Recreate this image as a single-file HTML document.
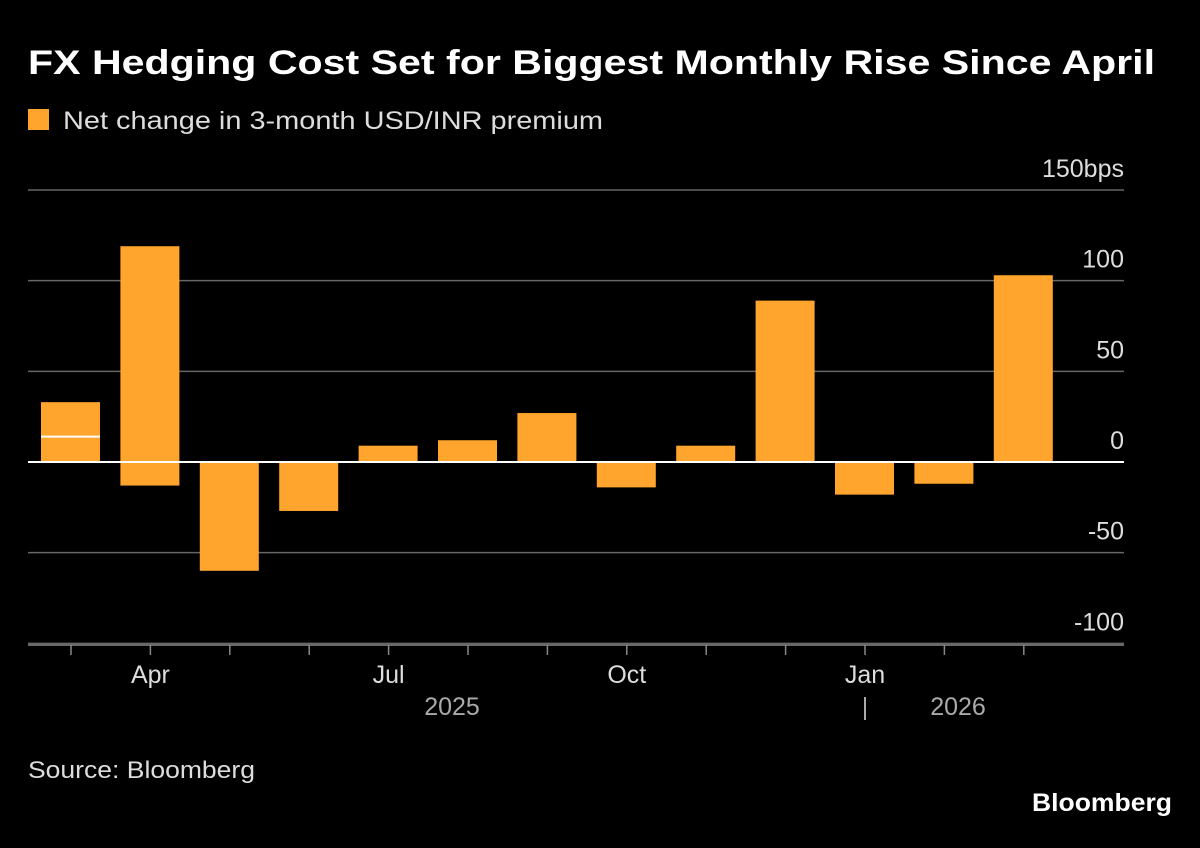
<!DOCTYPE html>
<html><head><meta charset="utf-8">
<style>
body{margin:0;background:#000;width:1200px;height:843px;overflow:hidden;font-family:"Liberation Sans",sans-serif;color:#fff}
</style></head>
<body>
<svg width="1200" height="843" viewBox="0 0 1200 843" xmlns="http://www.w3.org/2000/svg">
<text x="28" y="74" font-size="34" font-weight="bold" fill="#fff" textLength="1127" lengthAdjust="spacingAndGlyphs">FX Hedging Cost Set for Biggest Monthly Rise Since April</text>
<rect x="28" y="109" width="21" height="21" fill="#ffa42c"/>
<text x="63" y="129" font-size="25" fill="#ddd" textLength="540" lengthAdjust="spacingAndGlyphs">Net change in 3-month USD/INR premium</text>
<g id="grid"></g>
<g id="bars"></g>
<g id="axis"></g>
<text x="28" y="778" font-size="24" fill="#ddd" textLength="227" lengthAdjust="spacingAndGlyphs">Source: Bloomberg</text>
<text x="1172" y="811" font-size="25" font-weight="bold" fill="#fff" text-anchor="end" textLength="140" lengthAdjust="spacingAndGlyphs">Bloomberg</text>
</svg>
<script>
const months=["Mar","Apr","May","Jun","Jul","Aug","Sep","Oct","Nov","Dec","Jan","Feb","Mar2"];
const values=[33,119,-60,-27,9,12,27,-14,9,89,-18,-12,103];
const secondary=[0,-13,0,0,0,0,0,0,0,0,0,0,0];
const marker=[14,null,null,null,null,null,null,null,null,null,null,null,null];
const yTicks=[150,100,50,0,-50,-100];
const yTickLabels=["150bps","100","50","0","-50","-100"];
const xLabels=[["Apr",1],["Jul",4],["Oct",7],["Jan",10]];
const NS="http://www.w3.org/2000/svg";
const y=v=>462-v*1.8133;
const xc=i=>71+i*79.4;
function mk(t,a,p){const e=document.createElementNS(NS,t);for(const k in a)e.setAttribute(k,a[k]);p.appendChild(e);return e;}
const grid=document.getElementById('grid'),bars=document.getElementById('bars'),axis=document.getElementById('axis');
yTicks.forEach((v,i)=>{
 if(v!==0){const l=mk('line',{x1:28,x2:1124,y1:y(v),y2:y(v),stroke:'#666','stroke-width':1.5},grid);
 
 }
 const t=mk('text',{x:1124,y:y(v)-13,'font-size':25,fill:'#ddd','text-anchor':'end'},grid);
 t.textContent=yTickLabels[i];
 
 
});
function bar(i,v){const top=Math.min(y(v),y(0)),h=Math.abs(y(v)-y(0));
 const r=mk('rect',{x:xc(i)-30,y:top,width:59,height:h,fill:'#ffa42c'},bars);
 
 }
values.forEach((v,i)=>{bar(i,v);if(secondary[i])bar(i,secondary[i]);
 if(marker[i]!=null){const m=mk('line',{x1:xc(i)-30,x2:xc(i)+29,y1:y(marker[i]),y2:y(marker[i]),stroke:'#fff','stroke-width':2},bars);
 
 }});
const z=mk('line',{x1:28,x2:1124,y1:y(0),y2:y(0),stroke:'#fff','stroke-width':2},axis);


const xa=mk('line',{x1:28,x2:1124,y1:645,y2:645,stroke:'#888','stroke-width':1.5},axis);


months.forEach((m,i)=>{const t=mk('line',{x1:xc(i),x2:xc(i),y1:645,y2:655,stroke:'#888','stroke-width':1.5},axis);
 
 });
xLabels.forEach(([s,i])=>{const t=mk('text',{x:xc(i),y:683,'font-size':25,fill:'#ddd','text-anchor':'middle'},axis);
 t.textContent=s;
 
 });
[["2025",452],["2026",958],["|",865]].forEach(([s,x])=>{const t=mk('text',{x:x,y:715,'font-size':25,fill:'#aaa','text-anchor':'middle'},axis);
 t.textContent=s;
 
 });
</script>
</body></html>
